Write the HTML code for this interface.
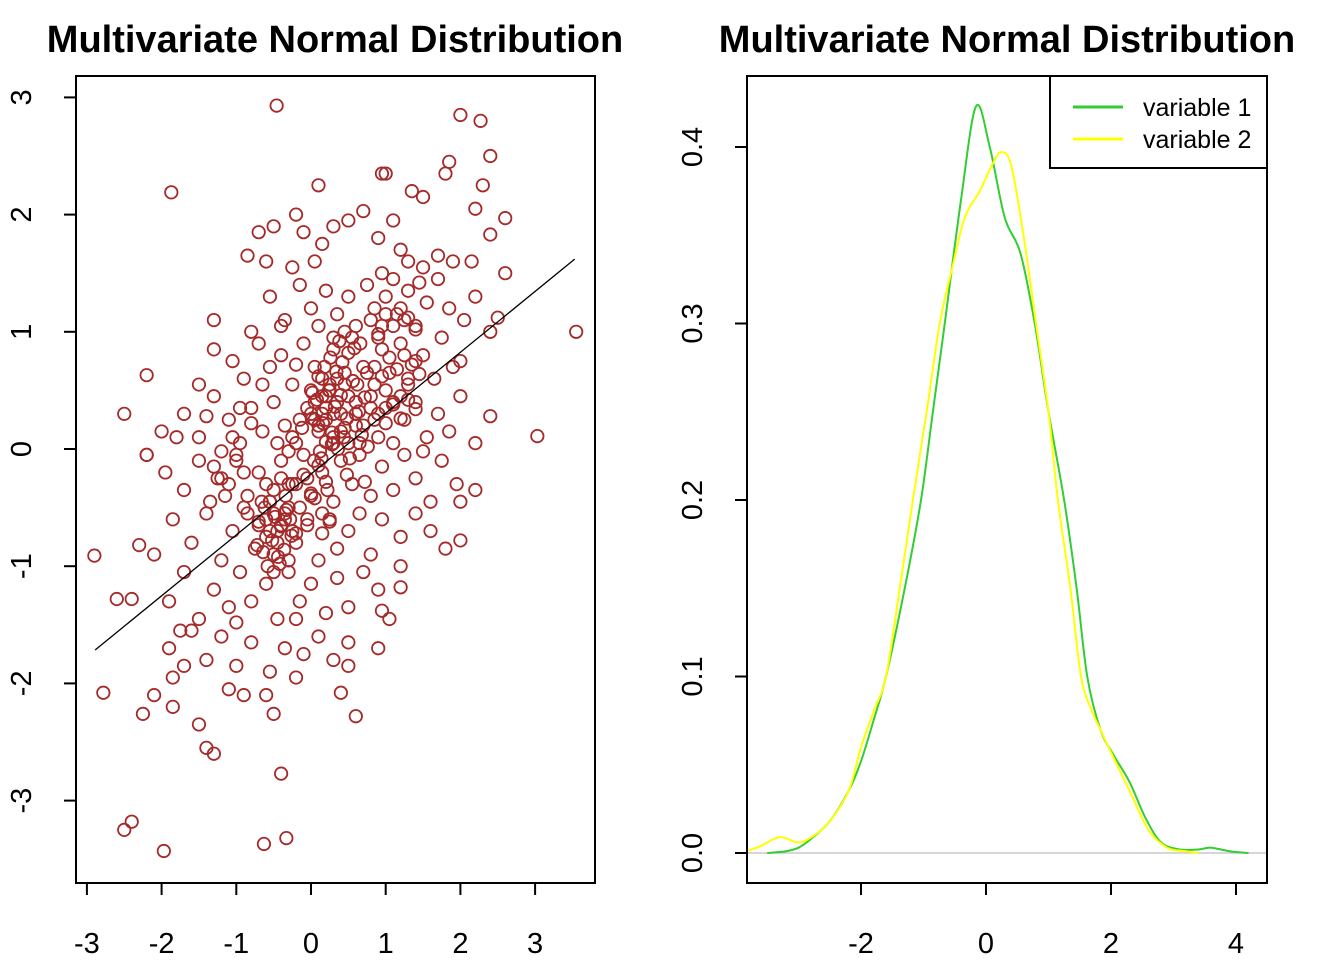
<!DOCTYPE html>
<html><head><meta charset="utf-8"><style>
html,body{margin:0;padding:0;background:#fff;}
svg{display:block;font-family:"Liberation Sans",Arial,sans-serif;}
</style></head><body>
<svg id="c" width="1344" height="960" xmlns="http://www.w3.org/2000/svg"></svg>
<script>
// ---- data ----
const scatterX = [-0.46,2.0,2.27,-1.87,3.55,3.03,-2.9,-2.78,-2.5,-2.4,-1.97,-0.63,-0.33,-0.4,-2.25,-2.1,-1.85,-1.3,-2.6,-2.4,-2.3,-2.5,-2.2,-2.2,2.4,2.6,2.6,2.4,2.4,2.5,2.4,1.8,1.85,1.0,0.95,0.1,-0.2,-0.85,-0.7,2.0,1.8,2.0,2.2,1.2,0.95,0.5,0.6,0.4,-0.1,-0.6,-0.5,-0.9,-1.1,-1.5,-1.4,-1.9,-1.85,-1.7,
-0.6,-0.25,0.05,0.3,0.5,0.7,0.9,1.1,1.2,1.3,1.5,1.7,1.9,2.15,2.2,2.3,1.5,1.35,-0.5,0.15,0.95,1.1,-0.1,
-1.3,-0.55,-0.35,-0.15,0,0.2,0.35,0.5,0.6,0.75,0.85,1.0,1.15,1.3,1.4,1.55,1.7,1.85,2.05,2.2,1.25,0.45,-0.4,-0.8,0.95,1.45,0.1,
-1.5,-1.3,-1.05,-0.9,-0.7,-0.55,-0.4,-0.25,-0.1,0.05,0.15,0.3,0.45,0.55,0.7,0.85,0.95,1.05,1.2,1.3,1.5,1.65,1.9,2.0,1.75,0.25,-0.2,0.62,1.4,0.9,-0.65,0.0,0.38,
-2.0,-1.7,-1.5,-1.3,-1.1,-0.95,-0.8,-0.65,-0.5,-0.35,-0.2,-0.05,0.1,0.2,0.3,0.4,0.5,0.6,0.7,0.8,0.9,1.0,1.1,1.25,1.4,1.55,1.7,1.85,2.0,2.2,-1.8,0.05,0.35,0.65,0.85,-0.45,0.15,0.45,-0.15,1.2,
-2.2,-1.95,-1.7,-1.5,-1.35,-1.2,-1.0,-0.85,-0.7,-0.55,-0.4,-0.25,-0.1,0.0,0.15,0.3,0.4,0.55,0.65,0.8,0.95,1.1,1.25,1.4,1.6,1.75,1.95,-0.3,0.22,0.48,-0.05,0.72,-0.6,1.5,
-2.1,-1.85,-1.6,-1.4,-1.2,-1.05,-0.9,-0.75,-0.6,-0.5,-0.35,-0.2,-0.05,0.1,0.25,0.35,0.5,0.65,0.8,0.95,1.2,1.4,1.6,-0.45,-0.7,0.15,-0.3,
-1.9,-1.7,-1.5,-1.3,-1.1,-0.95,-0.8,-0.6,-0.45,-0.3,-0.15,0.0,0.2,0.35,0.5,0.7,0.9,1.05,1.2,-1.0,-0.2,
-1.6,-1.4,-1.2,-1.0,-0.8,-0.55,-0.35,-0.2,0.1,0.3,0.5,0.9,-1.75,
-0.5,-0.4,-0.6,-0.3,-0.45,-0.35,-0.55,-0.25,-0.5,-0.4,0.1,0.2,0.3,0.25,0.35,0.4,0.15,0.3,0.05,0.2,0.5,0.6,0.45,0.8,1.0,1.1,1.3,0.9,0.75,
-0.7,-0.62,-0.55,-0.48,-0.4,-0.33,-0.26,-0.72,-0.64,-0.52,-0.44,-0.36,-0.28,-0.2,-0.58,-0.5,-0.42,-0.34,-0.66,-0.3,
0.0,0.08,0.16,0.24,0.32,0.4,0.48,0.56,0.64,0.72,0.04,0.12,0.2,0.28,0.36,0.44,0.52,0.6,0.68,0.76,0.1,0.18,0.26,0.34,0.42,0.5,0.58,0.66,0.02,0.3,
0.8,0.9,1.0,1.1,1.2,1.3,1.4,0.85,0.95,1.05,1.15,1.25,1.35,1.45,0.9,1.0,1.1,1.2,1.3,1.4,
-0.2,-0.1,0.0,0.1,0.2,-0.15,-0.05,0.05,0.15,0.25,-0.25,-0.12,0.02,0.14,0.28,-0.9,-1.0,-1.1,-1.2,-0.8,-1.15,-1.3,-0.95,-1.05,-0.85,-1.4,-1.25];
const scatterY = [2.93,2.85,2.8,2.19,1.0,0.11,-0.91,-2.08,-3.25,-3.18,-3.43,-3.37,-3.32,-2.77,-2.26,-2.1,-2.2,-2.6,-1.28,-1.28,-0.82,0.3,0.63,-0.05,2.5,1.97,1.5,0.28,1.0,1.12,1.83,2.35,2.45,2.35,2.35,2.25,2.0,1.65,1.85,-0.45,-0.85,-0.78,-0.35,-1.18,-1.38,-1.85,-2.28,-2.08,-1.75,-2.1,-2.26,-2.1,-2.05,-2.35,-2.55,-1.7,-1.95,-1.85,
1.6,1.55,1.6,1.9,1.95,2.03,1.8,1.95,1.7,1.6,1.55,1.65,1.6,1.6,2.05,2.25,2.15,2.2,1.9,1.75,1.5,1.45,1.85,
1.1,1.3,1.1,1.4,1.2,1.35,1.15,1.3,1.05,1.4,1.2,1.3,1.15,1.35,1.05,1.25,1.45,1.2,1.1,1.3,1.1,1.0,1.05,1.0,1.05,1.42,1.05,
0.55,0.85,0.75,0.6,0.9,0.7,0.8,0.55,0.9,0.7,0.6,0.85,0.65,0.95,0.7,0.55,0.85,0.65,0.9,0.6,0.8,0.6,0.7,0.75,0.95,0.55,0.72,0.55,0.75,0.95,0.55,0.5,0.92,
0.15,0.3,0.1,0.45,0.25,0.05,0.35,0.15,0.4,0.2,0.05,0.35,0.15,0.45,0.1,0.3,0.05,0.4,0.2,0.45,0.1,0.35,0.05,0.25,0.4,0.1,0.3,0.15,0.45,0.05,0.1,0.25,0.4,0.05,0.25,0.05,0.3,0.18,0.25,0.45,
-0.05,-0.2,-0.35,-0.1,-0.45,-0.25,-0.05,-0.4,-0.2,-0.45,-0.1,-0.3,-0.05,-0.4,-0.2,-0.45,-0.1,-0.3,-0.05,-0.4,-0.15,-0.35,-0.05,-0.25,-0.45,-0.1,-0.3,-0.02,-0.35,-0.22,-0.25,-0.28,-0.3,-0.02,
-0.9,-0.6,-0.8,-0.55,-0.95,-0.7,-0.5,-0.85,-0.6,-0.9,-0.55,-0.8,-0.65,-0.95,-0.6,-0.85,-0.7,-0.55,-0.9,-0.6,-0.75,-0.55,-0.7,-0.7,-0.65,-0.72,-0.95,
-1.3,-1.05,-1.45,-1.2,-1.35,-1.05,-1.3,-1.15,-1.45,-1.05,-1.3,-1.15,-1.4,-1.1,-1.35,-1.05,-1.2,-1.45,-1.0,-1.48,-1.45,
-1.55,-1.8,-1.6,-1.85,-1.65,-1.9,-1.7,-1.95,-1.6,-1.8,-1.65,-1.7,-1.55,
-0.55,-0.65,-0.75,-0.5,-0.8,-0.6,-0.45,-0.7,-0.35,-0.25,0.2,0.35,0.3,0.5,0.6,0.15,0.45,0.05,0.4,0.25,0.45,0.3,0.55,0.35,0.5,0.4,0.55,0.3,0.65,
-0.62,-0.5,-0.7,-0.58,-0.66,-0.52,-0.74,-0.82,-0.88,-0.78,-0.92,-0.86,-0.6,-0.72,-1.0,-1.05,-0.98,-0.4,-0.45,-0.3,
0.3,0.42,0.22,0.5,0.36,0.46,0.26,0.58,0.32,0.44,-0.1,-0.02,0.06,0.14,0.0,0.1,-0.08,0.2,0.12,0.02,0.62,0.7,0.78,0.66,0.74,0.82,0.86,0.9,0.48,0.95,
1.1,0.98,1.15,1.05,1.2,1.12,1.02,0.7,0.62,0.78,0.68,0.8,0.72,0.64,0.3,0.22,0.38,0.26,0.42,0.34,
-0.3,-0.22,-0.38,-0.14,-0.28,-0.5,-0.6,-0.42,-0.55,-0.62,0.1,0.18,0.26,-0.08,0.04,-0.2,-0.1,-0.3,-0.02,0.22,-0.4,-0.15,0.35,0.1,-0.55,0.28,-0.25];
const lineX = [-2.89,3.53];
const lineY = [-1.715,1.62];
const xTicksL = [-3,-2,-1,0,1,2,3];
const yTicksL = [-3,-2,-1,0,1,2,3];
const densX1 = [-3.5,-3.2,-3.0,-2.8,-2.5,-2.2,-2.0,-1.8,-1.6,-1.3,-1.04,-0.85,-0.66,-0.4,-0.16,0.06,0.3,0.55,0.78,1.0,1.25,1.45,1.62,1.83,2.05,2.3,2.55,2.8,3.1,3.4,3.6,3.9,4.2];
const densY1 = [0.0,0.001,0.003,0.008,0.018,0.035,0.052,0.075,0.1,0.15,0.2,0.25,0.3,0.37,0.423,0.4,0.36,0.34,0.3,0.25,0.2,0.15,0.1,0.07,0.055,0.04,0.02,0.006,0.002,0.002,0.003,0.001,0.0];
const densX2 = [-3.83,-3.6,-3.3,-3.0,-2.75,-2.5,-2.2,-2.0,-1.8,-1.6,-1.38,-1.17,-0.95,-0.74,-0.55,-0.34,-0.1,0.1,0.24,0.4,0.6,0.8,1.0,1.15,1.35,1.52,1.7,1.83,2.0,2.3,2.6,2.9,3.2,3.4];
const densY2 = [0.001,0.004,0.009,0.006,0.01,0.018,0.035,0.06,0.08,0.1,0.15,0.2,0.25,0.3,0.33,0.36,0.375,0.39,0.397,0.39,0.35,0.3,0.25,0.2,0.15,0.1,0.08,0.07,0.057,0.035,0.013,0.003,0.001,0.0];
const xTicksR = [-2,0,2,4];
const yTicksR = [0,0.1,0.2,0.3,0.4];
const yTickLabR = ["0.0","0.1","0.2","0.3","0.4"];
const legendLabels = ["variable 1","variable 2"];
const legendColors = ["#32CD32","#FFFF00"];

// ---- scales ----
const lx = v => 311 + v*74.7, ly = v => 449 - v*117.2;
const rx = v => 986 + v*62.5, ry = v => 853 - v*1765;
const svg = document.getElementById('c');
const NS = 'http://www.w3.org/2000/svg';
function mk(tag, attrs, parent){ const e=document.createElementNS(NS,tag); for(const k in attrs) e.setAttribute(k,attrs[k]); (parent||svg).appendChild(e); return e; }

// Titles
let t = mk('text',{x:335,y:52,'text-anchor':'middle','font-size':38,'font-weight':'bold'});


t.textContent='Multivariate Normal Distribution';
t = mk('text',{x:1007,y:52,'text-anchor':'middle','font-size':38,'font-weight':'bold'});


t.textContent='Multivariate Normal Distribution';

// Left plot
const gL = mk('g',{});


for(let i=0;i<scatterX.length;i++){
  const c = mk('circle',{cx:lx(scatterX[i]),cy:ly(scatterY[i]),r:6.2,fill:'none',stroke:'#A52A2A','stroke-width':1.8},gL);
  
  
}
let rl = mk('line',{x1:lx(lineX[0]),y1:ly(lineY[0]),x2:lx(lineX[1]),y2:ly(lineY[1]),stroke:'#000','stroke-width':1.3});


let b = mk('rect',{x:76,y:76,width:519,height:807,fill:'none',stroke:'#000','stroke-width':2});


mk('line',{x1:lx(xTicksL[0]),y1:883,x2:lx(xTicksL[xTicksL.length-1]),y2:883,stroke:'#000','stroke-width':2});
xTicksL.forEach(v=>{
  mk('line',{x1:lx(v),y1:883,x2:lx(v),y2:895,stroke:'#000','stroke-width':2});
  const e=mk('text',{x:lx(v),y:953,'text-anchor':'middle','font-size':29});
  
  
  e.textContent=v;
});
mk('line',{x1:76,y1:ly(yTicksL[0]),x2:76,y2:ly(yTicksL[yTicksL.length-1]),stroke:'#000','stroke-width':2});
yTicksL.forEach(v=>{
  mk('line',{x1:64,y1:ly(v),x2:76,y2:ly(v),stroke:'#000','stroke-width':2});
  const e=mk('text',{x:0,y:0,'text-anchor':'middle','font-size':29,transform:`translate(31,${ly(v)}) rotate(-90)`});
  
  
  e.textContent=v;
});

// Right plot
const base = mk('line',{x1:747,y1:ry(0),x2:1267,y2:ry(0),stroke:'#BEBEBE','stroke-width':1.3});


function smoothPath(pts){
  let d='M'+pts[0][0]+','+pts[0][1];
  for(let i=0;i<pts.length-1;i++){
    const p0=pts[Math.max(0,i-1)],p1=pts[i],p2=pts[i+1],p3=pts[Math.min(pts.length-1,i+2)];
    const c1=[p1[0]+(p2[0]-p0[0])/6,p1[1]+(p2[1]-p0[1])/6];
    const c2=[p2[0]-(p3[0]-p1[0])/6,p2[1]-(p3[1]-p1[1])/6];
    d+=` C${c1[0]},${c1[1]} ${c2[0]},${c2[1]} ${p2[0]},${p2[1]}`;
  }
  return d;
}
function curve(xs,ys,col,name){
  const p = mk('path',{d:smoothPath(xs.map((x,i)=>[rx(x),ry(ys[i])])),fill:'none',stroke:col,'stroke-width':2});
  
  
}
curve(densX1,densY1,legendColors[0],'density-variable-1');
curve(densX2,densY2,legendColors[1],'density-variable-2');
b = mk('rect',{x:747,y:76,width:520,height:807,fill:'none',stroke:'#000','stroke-width':2});


mk('line',{x1:rx(xTicksR[0]),y1:883,x2:rx(xTicksR[xTicksR.length-1]),y2:883,stroke:'#000','stroke-width':2});
xTicksR.forEach(v=>{
  mk('line',{x1:rx(v),y1:883,x2:rx(v),y2:895,stroke:'#000','stroke-width':2});
  const e=mk('text',{x:rx(v),y:953,'text-anchor':'middle','font-size':29});
  
  
  e.textContent=v;
});
yTicksR.forEach((v,i)=>{
  mk('line',{x1:735,y1:ry(v),x2:747,y2:ry(v),stroke:'#000','stroke-width':2});
  const e=mk('text',{x:0,y:0,'text-anchor':'middle','font-size':29,transform:`translate(702,${ry(v)}) rotate(-90)`});
  
  
  e.textContent=yTickLabR[i];
});

// Legend
const lg = mk('g',{});


mk('rect',{x:1050,y:76,width:217,height:92,fill:'#fff',stroke:'#000','stroke-width':2},lg);
legendLabels.forEach((lab,i)=>{
  const y = 107 + i*32;
  mk('line',{x1:1073,y1:y,x2:1123,y2:y,stroke:legendColors[i],'stroke-width':3},lg);
  const e=mk('text',{x:1143,y:y+9,'font-size':25},lg);
  
  
  e.textContent=lab;
});
</script>
</body></html>
